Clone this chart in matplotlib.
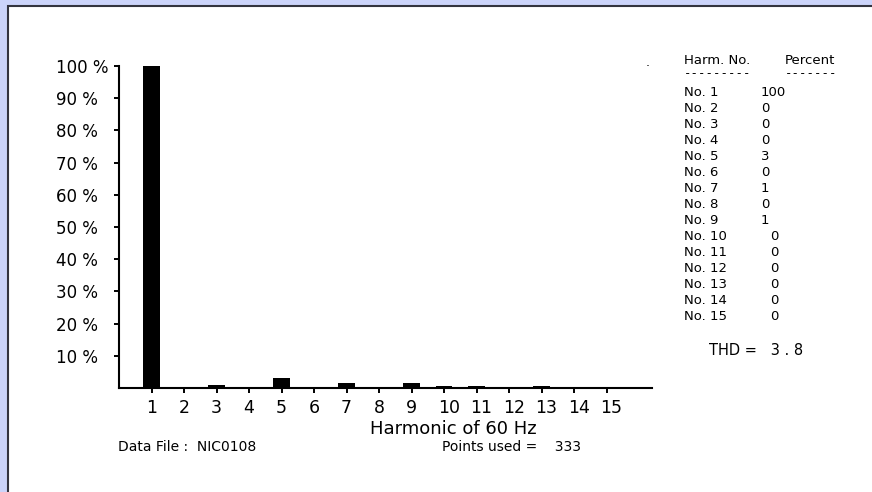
import matplotlib
matplotlib.use("Agg")
import matplotlib.pyplot as plt
from matplotlib.patches import Rectangle
from matplotlib.transforms import ScaledTranslation

# ---- data ----
harmonics = list(range(1, 16))
bar_percent = [100, 0, 1.0, 0, 3.2, 0, 1.6, 0, 1.6, 0.6, 0.6, 0, 0.6, 0, 0]
table_percent = [100, 0, 0, 0, 3, 0, 1, 0, 1, 0, 0, 0, 0, 0, 0]
y_ticks = [10, 20, 30, 40, 50, 60, 70, 80, 90, 100]
y_tick_labels = [f"{v} %" for v in y_ticks]
x_tick_labels = [str(h) for h in harmonics]
thd_text = "THD =   3 . 8"
data_file_text = "Data File :  NIC0108"
points_text = "Points used =    333"

W, H = 872, 492
fig = plt.figure(figsize=(W / 100, H / 100), dpi=100)
fig.patch.set_facecolor("#ccd4fa")

# white panel with dark border on left/top
panel = Rectangle((8.3 / W, -0.2), 1.3, 1.2 - 5.5 / H, transform=fig.transFigure,
                  facecolor="white", edgecolor="#34343f", linewidth=1.5, zorder=-10)
fig.patches.append(panel)

def fx(px):
    return px / W

def fy(py):
    return 1 - py / H

ax_left, ax_right, ax_top, ax_bottom = 119, 652, 66, 388
ax = fig.add_axes([fx(ax_left), fy(ax_bottom), (ax_right - ax_left) / W, (ax_bottom - ax_top) / H])
ax.set_facecolor("none")
ax.set_zorder(5)

ax.bar(harmonics, bar_percent, width=0.5, color="black", zorder=1)
ax.set_xlim(0, 16.4)
ax.set_ylim(0, 100)

for s in ["top", "right"]:
    ax.spines[s].set_visible(False)
for s in ["left", "bottom"]:
    ax.spines[s].set_linewidth(1.5)
    ax.spines[s].set_color("black")

ax.set_yticks(y_ticks)
ax.set_yticklabels(y_tick_labels, fontsize=12, ha="left")
ax.tick_params(axis="y", direction="out", length=3.3, width=1.4, pad=42)

ax.set_xticks(harmonics)
ax.set_xticklabels(x_tick_labels, fontsize=12.5)
ax.tick_params(axis="x", direction="out", length=3.6, width=1.4, pad=4)

ax.set_xlabel("Harmonic of 60 Hz", fontsize=13)
ax.xaxis.label.set_va("center")
ax.xaxis.set_label_coords((453 - ax_left) / (ax_right - ax_left), (ax_bottom - 429) / (ax_bottom - ax_top))

# shift two-digit tick labels slightly right as in the original
for tick in ax.xaxis.get_major_ticks():
    if len(tick.label1.get_text()) == 2:
        tick.label1.set_transform(tick.label1.get_transform() + ScaledTranslation(0.05, 0, fig.dpi_scale_trans))

# footer texts
fig.text(fx(118), fy(447), data_file_text, fontsize=10, va="center", ha="left")
fig.text(fx(442), fy(447), points_text, fontsize=10, va="center", ha="left")

# table on the right
fig.text(fx(646), fy(62), ".", fontsize=9, va="center", ha="left")
fig.text(fx(684), fy(60.5), "Harm. No.", fontsize=9.5, va="center", ha="left")
fig.text(fx(785), fy(60.5), "Percent", fontsize=9.5, va="center", ha="left")
fig.text(fx(684), fy(74), "---------", fontsize=9, family="DejaVu Sans Mono", va="center", ha="left")
fig.text(fx(785), fy(74), "-------", fontsize=9, family="DejaVu Sans Mono", va="center", ha="left")

for i, (h, p) in enumerate(zip(harmonics, table_percent)):
    y = 92.7 + 16.0 * i
    fig.text(fx(684), fy(y), f"No. {h}", fontsize=9.5, va="center", ha="left")
    vx = 761 if h < 10 else 770
    fig.text(fx(vx), fy(y), str(p), fontsize=9.5, va="center", ha="left")

fig.text(fx(709), fy(350.7), thd_text, fontsize=10.5, va="center", ha="left")

fig.savefig("out.png", dpi=100, facecolor=fig.get_facecolor())
